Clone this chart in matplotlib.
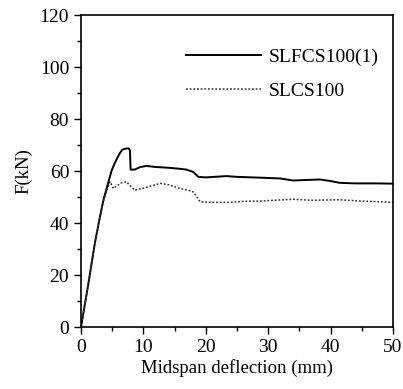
import numpy as np
import matplotlib
matplotlib.use("Agg")
import matplotlib.pyplot as plt
from matplotlib.ticker import MultipleLocator

plt.rcParams['font.family'] = ['Liberation Serif', 'DejaVu Serif']

# SLFCS100(1) - solid curve
x_solid = [0, 0.6, 1.2, 2.2, 3.0, 3.6, 4.3, 4.9, 5.4, 5.8, 6.2, 6.6, 7.0, 7.6, 7.85, 7.95,
           8.6, 9.5, 10.5, 12.0, 14.0, 15.5, 16.9, 18.0, 18.8, 20.0, 23.3, 25.0, 28.7,
           31.9, 34.0, 36.0, 38.3, 40.0, 41.5, 44.0, 47.0, 50.0]
y_solid = [0, 8.5, 17, 32, 42, 49, 55, 60.2, 63, 65, 66.8, 68.2, 68.6, 68.8, 68.0, 60.6,
           60.6, 61.6, 62.0, 61.6, 61.3, 61.0, 60.6, 59.7, 57.8, 57.6, 58.1, 57.8, 57.5,
           57.2, 56.4, 56.6, 56.8, 56.2, 55.5, 55.3, 55.3, 55.2]

# SLCS100 - dotted curve
x_dash = [0, 0.6, 1.2, 2.2, 3.0, 3.6, 4.2, 4.65, 5.2, 5.8, 6.5, 7.3, 7.8, 8.65, 10.0,
          11.5, 12.7, 14.0, 15.9, 17.0, 18.0, 18.6, 19.1, 21.0, 24.0, 26.0, 28.7, 31.0,
          34.0, 37.0, 41.5, 44.0, 47.0, 50.0]
y_dash = [0, 8.5, 17, 32, 42, 48.5, 53, 55.9, 53.3, 54.5, 55.5, 55.9, 54.5, 52.7, 53.5,
          54.5, 55.3, 54.8, 53.3, 52.8, 52.0, 50.0, 48.2, 48.0, 48.0, 48.4, 48.5, 48.8,
          49.2, 48.8, 49.0, 48.6, 48.3, 48.0]

labels = ['SLFCS100(1)', 'SLCS100']

fig = plt.figure(figsize=(4.03, 3.89), dpi=100)
ax = fig.add_axes([0.201, 0.159, 0.774, 0.802])

ax.plot(x_solid, y_solid, color='black', lw=1.4, label=labels[0])
ax.plot(x_dash, y_dash, color='#333333', lw=1.1, ls=(0, (1.2, 1.2)), label=labels[1])

ax.set_xlim(0, 50)
ax.set_ylim(0, 120)
ax.xaxis.set_major_locator(MultipleLocator(10))
ax.xaxis.set_minor_locator(MultipleLocator(5))
ax.yaxis.set_major_locator(MultipleLocator(20))
ax.yaxis.set_minor_locator(MultipleLocator(10))
ax.tick_params(which='major', direction='out', length=5, width=1, labelsize=14)
ax.tick_params(which='minor', direction='out', length=3, width=1)
for s in ax.spines.values():
    s.set_linewidth(1.2)

ax.set_xlabel('Midspan deflection (mm)', fontsize=13.5, labelpad=2)
ax.set_ylabel('F(kN)', fontsize=13.5, labelpad=5)

ax.legend(loc='upper right', bbox_to_anchor=(1.012, 0.95), frameon=False, fontsize=14,
          handlelength=3.9, handletextpad=0.4, labelspacing=0.85)

fig.savefig('out.png', dpi=100)
